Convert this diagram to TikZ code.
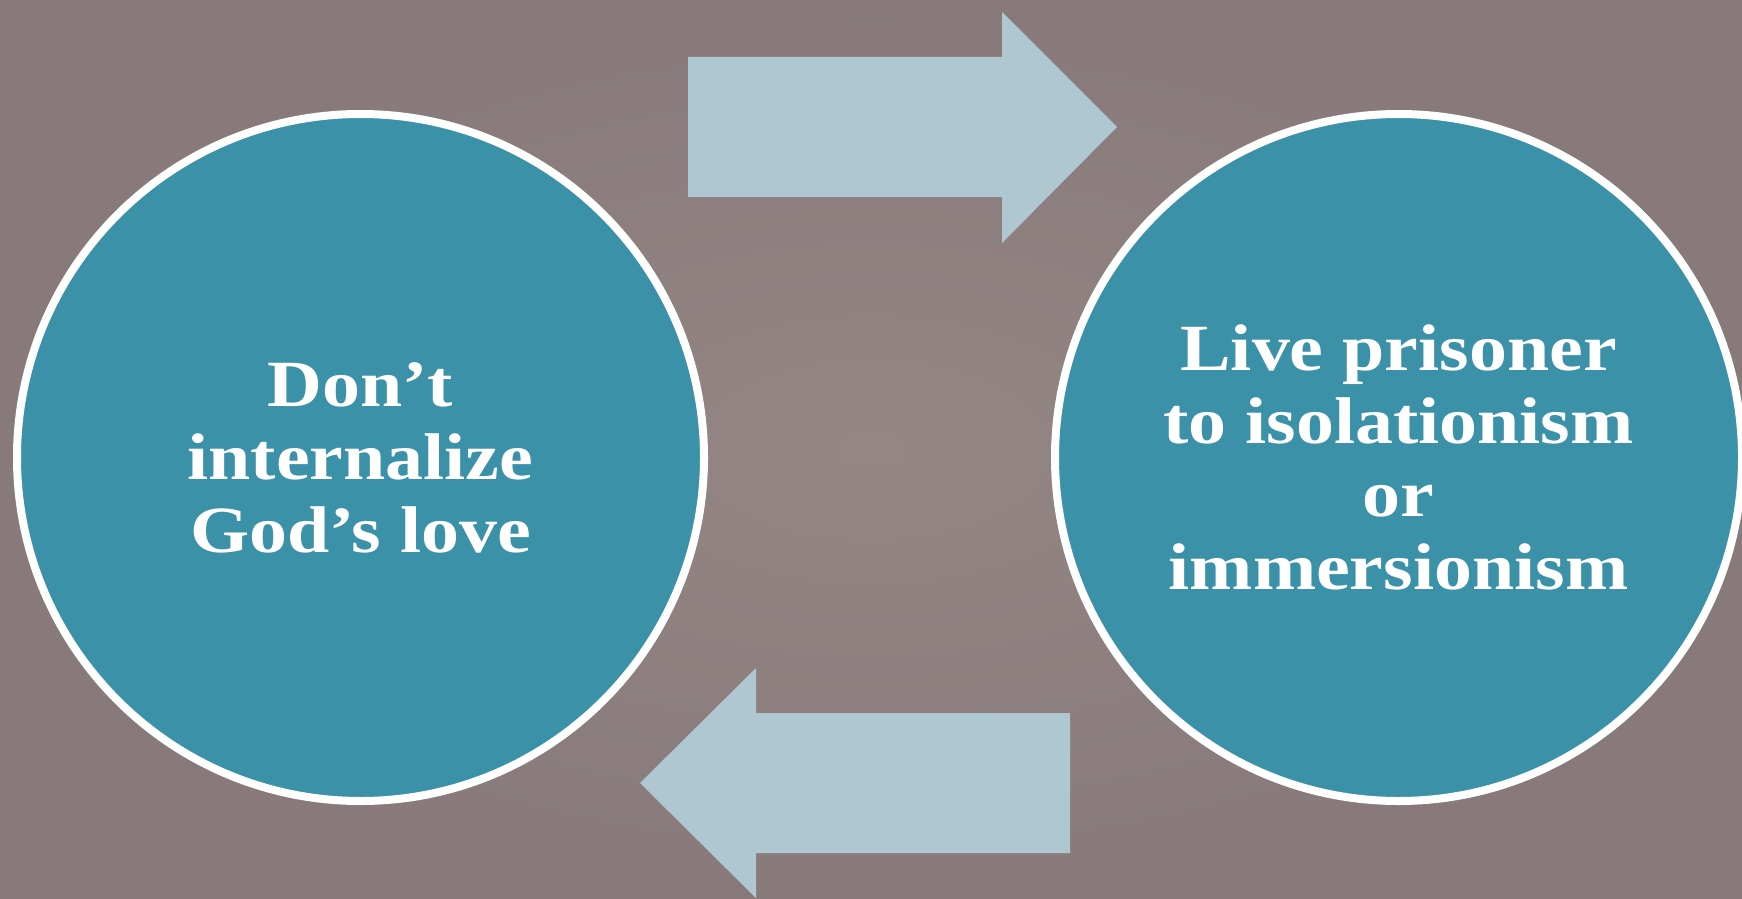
\documentclass[tikz,border=0pt]{standalone}
\usepackage{fontspec}
\newfontfamily\labelfont{Liberation Serif}[FakeStretch=1.15]
\definecolor{bgmid}{RGB}{147,134,132}
\definecolor{bgout}{RGB}{136,122,123}
\definecolor{tealfill}{RGB}{58,145,168}
\definecolor{arrowfill}{RGB}{175,199,209}
\tikzset{
  bigcircle/.style={circle, draw=white, line width=8pt, fill=tealfill, minimum size=687pt, inner sep=0pt,
    text=white, align=center, font=\labelfont\bfseries\fontsize{66}{73}\selectfont},
  blockarrow/.style={fill=arrowfill}
}
\begin{document}
\begin{tikzpicture}[x=1pt,y=-1pt]
\useasboundingbox (0,0) rectangle (1742,899);
\fill[inner color=bgmid, outer color=bgout] (0,0) rectangle (1742,899);
% arrows
\fill[blockarrow] (688,57) -- (1002,57) -- (1002,12) -- (1117,127) -- (1002,243) -- (1002,197) -- (688,197) -- cycle;
\fill[blockarrow] (1070,713) -- (756,713) -- (756,668) -- (640,783) -- (756,898) -- (756,853) -- (1070,853) -- cycle;
% circles
\node[bigcircle] (L) at (360.5,457.5) {Don’t\\internalize\\God’s love};
\node[bigcircle] (R) at (1398.5,457.5) {Live prisoner\\to isolationism\\or\\immersionism};
\end{tikzpicture}
\end{document}
